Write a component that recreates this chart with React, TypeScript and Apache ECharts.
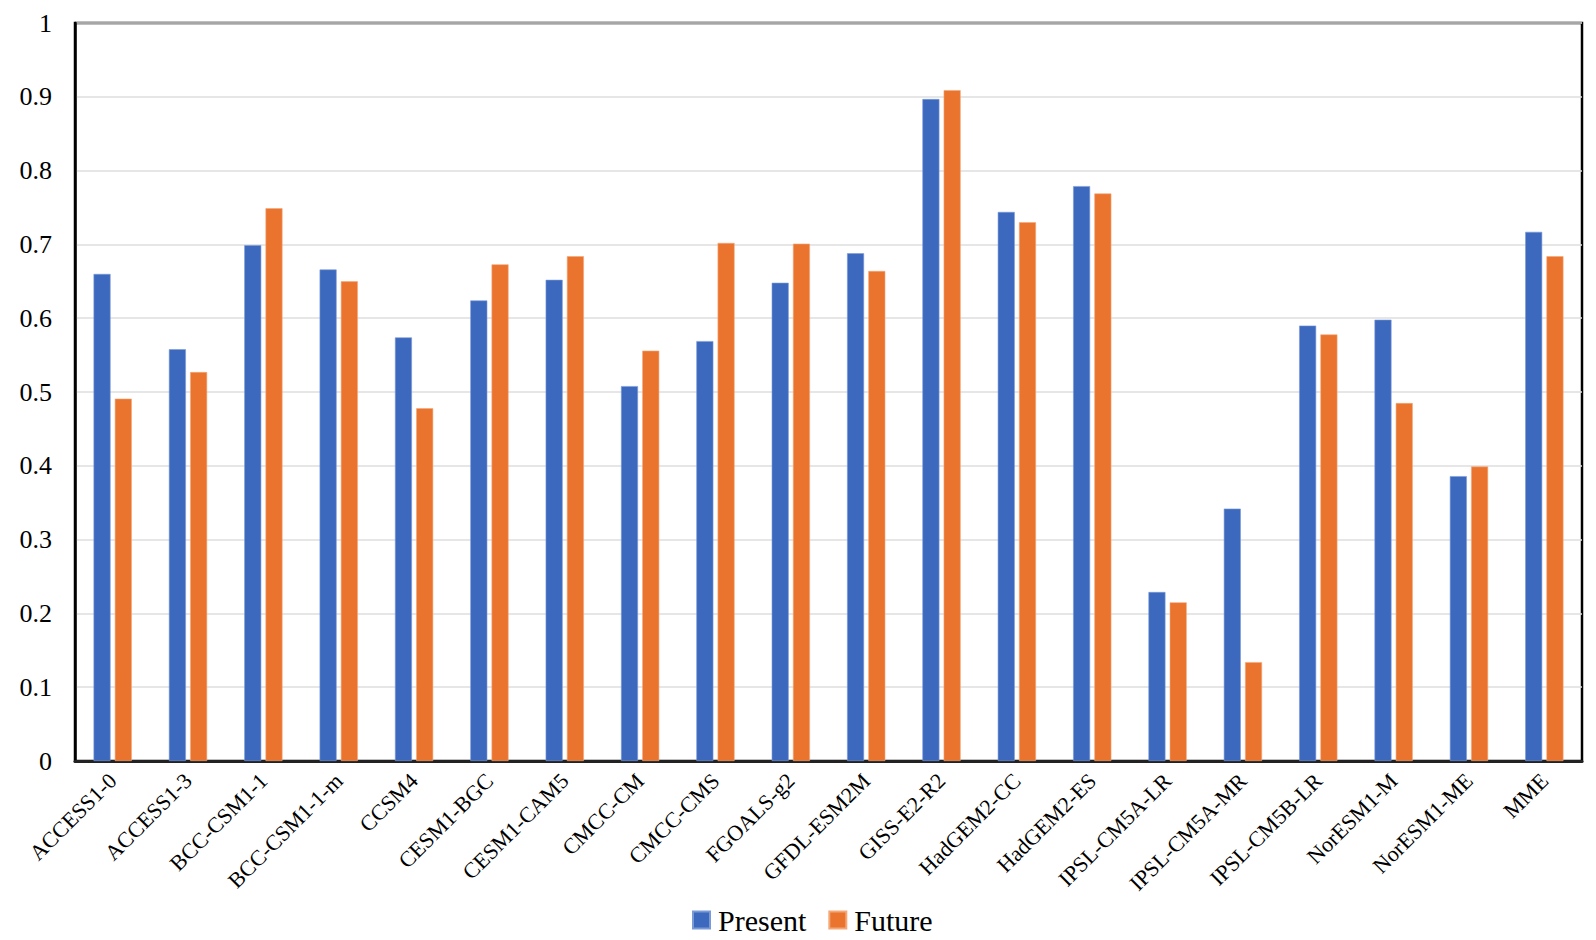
import React, { useEffect, useRef } from "react";
import * as echarts from "echarts";

const categories = [
  "ACCESS1-0", "ACCESS1-3", "BCC-CSM1-1", "BCC-CSM1-1-m", "CCSM4",
  "CESM1-BGC", "CESM1-CAM5", "CMCC-CM", "CMCC-CMS", "FGOALS-g2",
  "GFDL-ESM2M", "GISS-E2-R2", "HadGEM2-CC", "HadGEM2-ES", "IPSL-CM5A-LR",
  "IPSL-CM5A-MR", "IPSL-CM5B-LR", "NorESM1-M", "NorESM1-ME", "MME",
];
const presentValues = [
  0.66, 0.558, 0.699, 0.666, 0.574,
  0.624, 0.652, 0.508, 0.569, 0.648,
  0.688, 0.897, 0.744, 0.779, 0.229,
  0.342, 0.59, 0.598, 0.386, 0.717,
];
const futureValues = [
  0.491, 0.527, 0.749, 0.65, 0.478,
  0.673, 0.684, 0.556, 0.702, 0.701,
  0.664, 0.909, 0.73, 0.769, 0.215,
  0.134, 0.578, 0.485, 0.399, 0.684,
];
const seriesNames = ["Present", "Future"];

const FONT = "Liberation Serif";

export default function App() {
  const ref = useRef<HTMLDivElement>(null);
  useEffect(() => {
    if (!ref.current) return;
    const chart = echarts.init(ref.current, undefined, { renderer: "svg" });
    chart.setOption({
      animation: false,
      backgroundColor: "#ffffff",
      textStyle: { fontFamily: FONT },
      grid: {
        left: 75,
        right: 14,
        top: 23,
        bottom: 179,
        show: true,
        borderColor: "#000000",
        borderWidth: 2.5,
        backgroundColor: "#ffffff",
      },
      legend: {
        data: seriesNames,
        left: 687,
        top: 900,
        icon: "rect",
        itemWidth: 17,
        itemHeight: 17,
        itemGap: 22,
        textStyle: {
          fontFamily: FONT,
          fontSize: 30,
          color: "#000",
          padding: [0, 0, 0, 3],
        },
      },
      xAxis: {
        type: "category",
        data: categories,
        axisLine: { show: true, lineStyle: { color: "#222", width: 3 } },
        axisTick: { show: false },
        axisLabel: {
          interval: 0,
          rotate: 45,
          margin: 16,
          fontFamily: FONT,
          fontSize: 22,
          color: "#000",
        },
        splitLine: { show: false },
      },
      yAxis: {
        type: "value",
        min: 0,
        max: 1,
        interval: 0.1,
        axisLine: { show: true, lineStyle: { color: "#000", width: 2.5 } },
        axisTick: { show: false },
        axisLabel: {
          margin: 23,
          fontFamily: FONT,
          fontSize: 26,
          color: "#000",
          formatter: (v: number) => (v === 0 ? "0" : v === 1 ? "1" : v.toFixed(1)),
        },
        splitLine: { show: true, lineStyle: { color: "#dedede", width: 1.5 } },
      },
      series: [
        {
          name: seriesNames[0],
          type: "bar",
          data: presentValues,
          barWidth: 17,
          barGap: "25%",
          itemStyle: { color: "#3C68BE", borderColor: "#7A9AD6", borderWidth: 0.6 },
        },
        {
          name: seriesNames[1],
          type: "bar",
          data: futureValues,
          barWidth: 17,
          barGap: "25%",
          itemStyle: { color: "#EA732E", borderColor: "#F4A878", borderWidth: 0.6 },
        },
      ],
    });
    return () => chart.dispose();
  }, []);
  return (
    <div
      ref={ref}
      style={{ position: "absolute", left: 0, top: 0, width: 1596, height: 940 }}
    />
  );
}
